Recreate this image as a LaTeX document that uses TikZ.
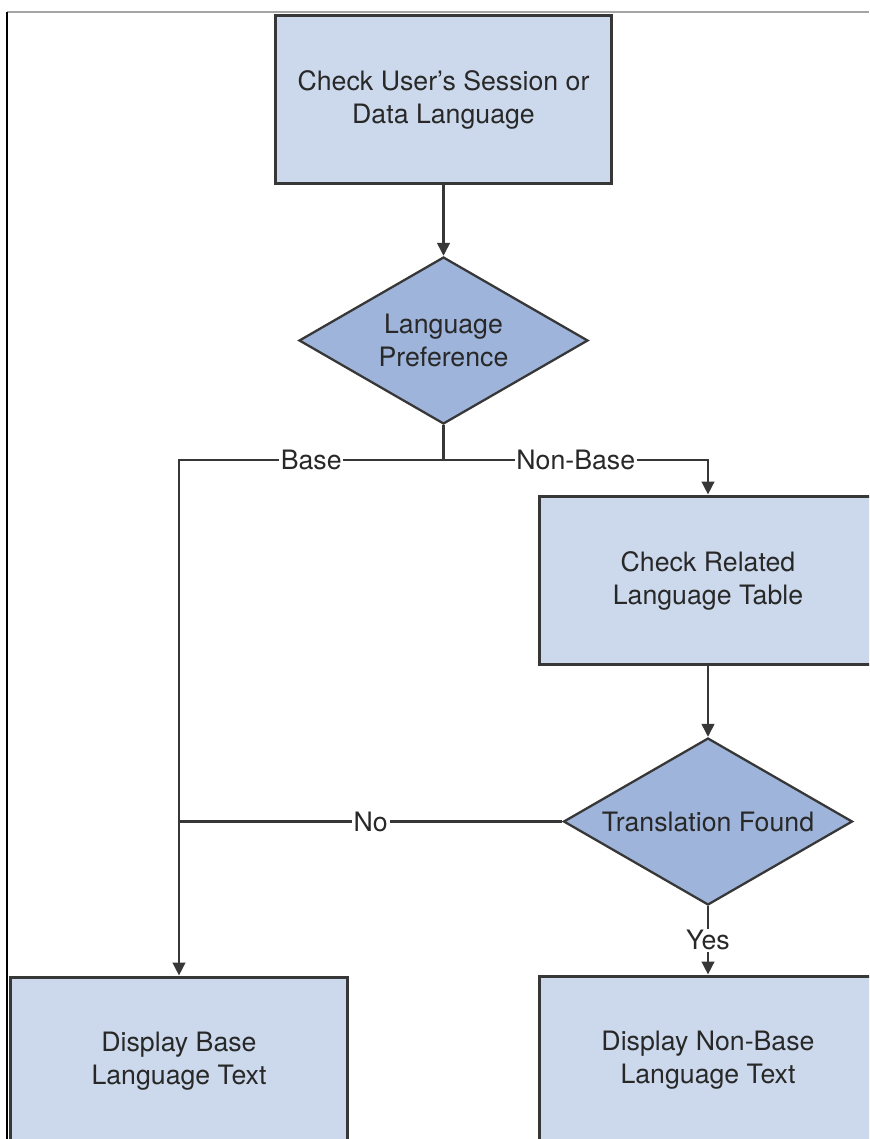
\documentclass[tikz,border=0pt]{standalone}
\usepackage{fontspec}
\setmainfont{TeX Gyre Heros}
\usetikzlibrary{shapes.geometric,arrows.meta}
\definecolor{boxblue}{RGB}{204,217,236}
\definecolor{diablue}{RGB}{158,180,218}
\definecolor{edgegray}{RGB}{55,55,55}
\definecolor{textgray}{RGB}{40,40,40}
\definecolor{framegray}{RGB}{165,165,165}

\begin{document}
\begin{tikzpicture}[x=0.02cm,y=-0.02cm,
		stepbox/.style={draw=edgegray,line width=1.7pt,fill=boxblue,minimum width=6.74cm,minimum height=3.38cm,align=center,text=textgray,font=\fontsize{15.2}{18.8}\selectfont},
		choice/.style={diamond,draw=edgegray,line width=1.3pt,fill=diablue,aspect=1.73,inner sep=0pt,minimum width=5.78cm,minimum height=3.34cm,align=center,text=textgray,font=\fontsize{15.2}{18.8}\selectfont},
		link/.style={draw=edgegray,line width=1.5pt},
		arr/.style={link,-{Triangle[length=0.26cm,width=0.25cm]}},
		lbl/.style={fill=white,inner sep=1pt,text=textgray,font=\fontsize{15.2}{18.8}\selectfont}]
		\useasboundingbox (0,0) rectangle (869,1139);
		\clip (0,0) rectangle (869,1139);

		% frame
		\draw[framegray,line width=0.6pt] (7,12) -- (869,12);
		\draw[black,line width=0.6pt] (7,12) -- (7,1139);

		% boxes
		\node[stepbox] (chk) at (443.5,99.5) {Check User’s Session or\\Data Language};
		\node[choice] (pref) at (443.5,340.5) {Language\\Preference};
		\node[stepbox] (rel) at (708,580.5) {Check Related\\Language Table};
		\node[choice] (found) at (708,821.5) {Translation Found};
		\node[stepbox] (dbase) at (179,1061.5) {Display Base\\Language Text};
		\node[stepbox] (dnon) at (708,1060.5) {Display Non-Base\\Language Text};

		% fork under the preference
		\coordinate (fork) at (443.5,460);

		% lines
		\draw[arr] (chk) -- (pref);
		\draw[link] (pref.south) -- (fork);
		\draw[arr] (fork) -- node[lbl] {Base} (fork -| dbase) -- (dbase.north);
		\draw[arr] (fork) -- node[lbl] {Non-Base} (fork -| rel) -- (rel.north);
		\draw[arr] (rel) -- (found);
		\draw[link] (found.west) -- node[lbl] {No} (found.west -| dbase);
		\draw[arr] (found.south) -- node[lbl] {Yes} (dnon.north);
	\end{tikzpicture}
\end{document}
